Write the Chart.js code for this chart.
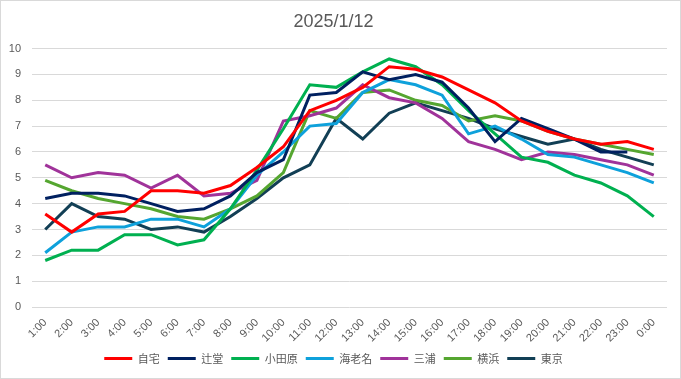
<!DOCTYPE html>
<html>
<head>
<meta charset="utf-8">
<script src="https://cdn.jsdelivr.net/npm/chart.js@4/dist/chart.umd.min.js"></script>
<style>
html,body{margin:0;padding:0;background:#fff;}
#wrap{width:681px;height:379px;position:relative;}
</style>
</head>
<body>
<div id="wrap"><canvas id="c" width="681" height="379"></canvas></div>
<script>
const titleText = "2025/1/12";
const categories = ["1:00","2:00","3:00","4:00","5:00","6:00","7:00","8:00","9:00","10:00","11:00","12:00","13:00","14:00","15:00","16:00","17:00","18:00","19:00","20:00","21:00","22:00","23:00","0:00"];
const yTicks = [0,1,2,3,4,5,6,7,8,9,10];

const seriesNames = ["自宅","辻堂","小田原","海老名","三浦","横浜","東京"];
const jitaku   = [3.6,2.9,3.6,3.7,4.5,4.5,4.4,4.7,5.4,6.2,7.6,8.0,8.5,9.3,9.2,8.9,8.4,7.9,7.2,6.8,6.5,6.3,6.4,6.1];
const tsujido  = [4.2,4.4,4.4,4.3,4.0,3.7,3.8,4.3,5.2,5.7,8.2,8.3,9.1,8.8,9.0,8.7,7.7,6.4,7.3,6.9,6.5,6.0,6.0,null];
const odawara  = [1.8,2.2,2.2,2.8,2.8,2.4,2.6,3.8,5.3,6.9,8.6,8.5,9.1,9.6,9.3,8.6,7.6,6.7,5.8,5.6,5.1,4.8,4.3,3.5];
const ebina    = [2.1,2.9,3.1,3.1,3.4,3.4,3.1,3.8,5.1,6.0,7.0,7.1,8.3,8.8,8.6,8.2,6.7,7.0,6.5,5.9,5.8,5.5,5.2,4.8];
const miura    = [5.5,5.0,5.2,5.1,4.6,5.1,4.3,4.4,4.9,7.2,7.4,7.7,8.6,8.1,7.9,7.3,6.4,6.1,5.7,6.0,5.9,5.7,5.5,5.1];
const yokohama = [4.9,4.5,4.2,4.0,3.8,3.5,3.4,3.8,4.3,5.2,7.6,7.3,8.3,8.4,8.0,7.8,7.2,7.4,7.2,6.8,6.5,6.3,6.1,5.9];
const tokyo    = [3.0,4.0,3.5,3.4,3.0,3.1,2.9,3.5,4.2,5.0,5.5,7.3,6.5,7.5,7.9,7.6,7.3,6.9,6.6,6.3,6.5,6.1,5.8,5.5];

const seriesData = [jitaku,tsujido,odawara,ebina,miura,yokohama,tokyo];
const seriesColors = ["#FF0000","#002060","#00B050","#0EA1DB","#A0339A","#55A630","#123F55"];

const bgPlugin = {
  id:'bg',
  beforeDraw(chart){
    const ctx = chart.ctx;
    ctx.save();
    ctx.fillStyle = '#ffffff';
    ctx.fillRect(0,0,chart.width,chart.height);
    ctx.strokeStyle = '#d9d9d9';
    ctx.lineWidth = 1;
    ctx.strokeRect(0.5,0.5,chart.width-1,chart.height-1);
    ctx.restore();
  }
};

new Chart(document.getElementById('c'), {
  type:'line',
  data:{
    labels:categories,
    datasets: seriesNames.map((n,i)=>({
      label:n,
      data:seriesData[i],
      borderColor:seriesColors[i],
      backgroundColor:seriesColors[i],
      borderWidth:3,
      pointRadius:0,
      pointHoverRadius:0,
      tension:0,
      fill:false,
      pointStyle:'line'
    }))
  },
  options:{
    responsive:false,
    animation:false,
    layout:{padding:{left:0,right:14,top:0,bottom:5}},
    plugins:{
      title:{
        display:true,
        text:titleText,
        color:'#595959',
        font:{family:"'Liberation Sans', Arial, sans-serif", size:18, weight:'normal'},
        padding:{top:11,bottom:16}
      },
      legend:{
        position:'bottom',
        labels:{
          color:'#595959',
          font:{family:"'Noto Sans CJK JP', sans-serif", size:11},
          usePointStyle:true,
          pointStyleWidth:28,
          boxHeight:3,
          padding:8
        }
      },
      tooltip:{enabled:false}
    },
    scales:{
      x:{
        offset:true,
        grid:{display:false, drawTicks:false},
        border:{display:false},
        ticks:{
          color:'#595959',
          font:{family:"'Liberation Sans', Arial, sans-serif", size:11},
          minRotation:45,
          maxRotation:45,
          autoSkip:false,
          padding:9
        },
        afterFit(s){ s.height = 38; }
      },
      y:{
        min:0,
        max:10,
        afterBuildTicks(s){ s.ticks = yTicks.map(v=>({value:v})); },
        grid:{color:'#d9d9d9', lineWidth:1, drawTicks:false},
        border:{display:false},
        ticks:{
          color:'#595959',
          font:{family:"'Liberation Sans', Arial, sans-serif", size:11},
          padding:11
        },
        afterFit(s){ s.width = 32; }
      }
    }
  },
  plugins:[bgPlugin]
});
</script>
</body>
</html>
